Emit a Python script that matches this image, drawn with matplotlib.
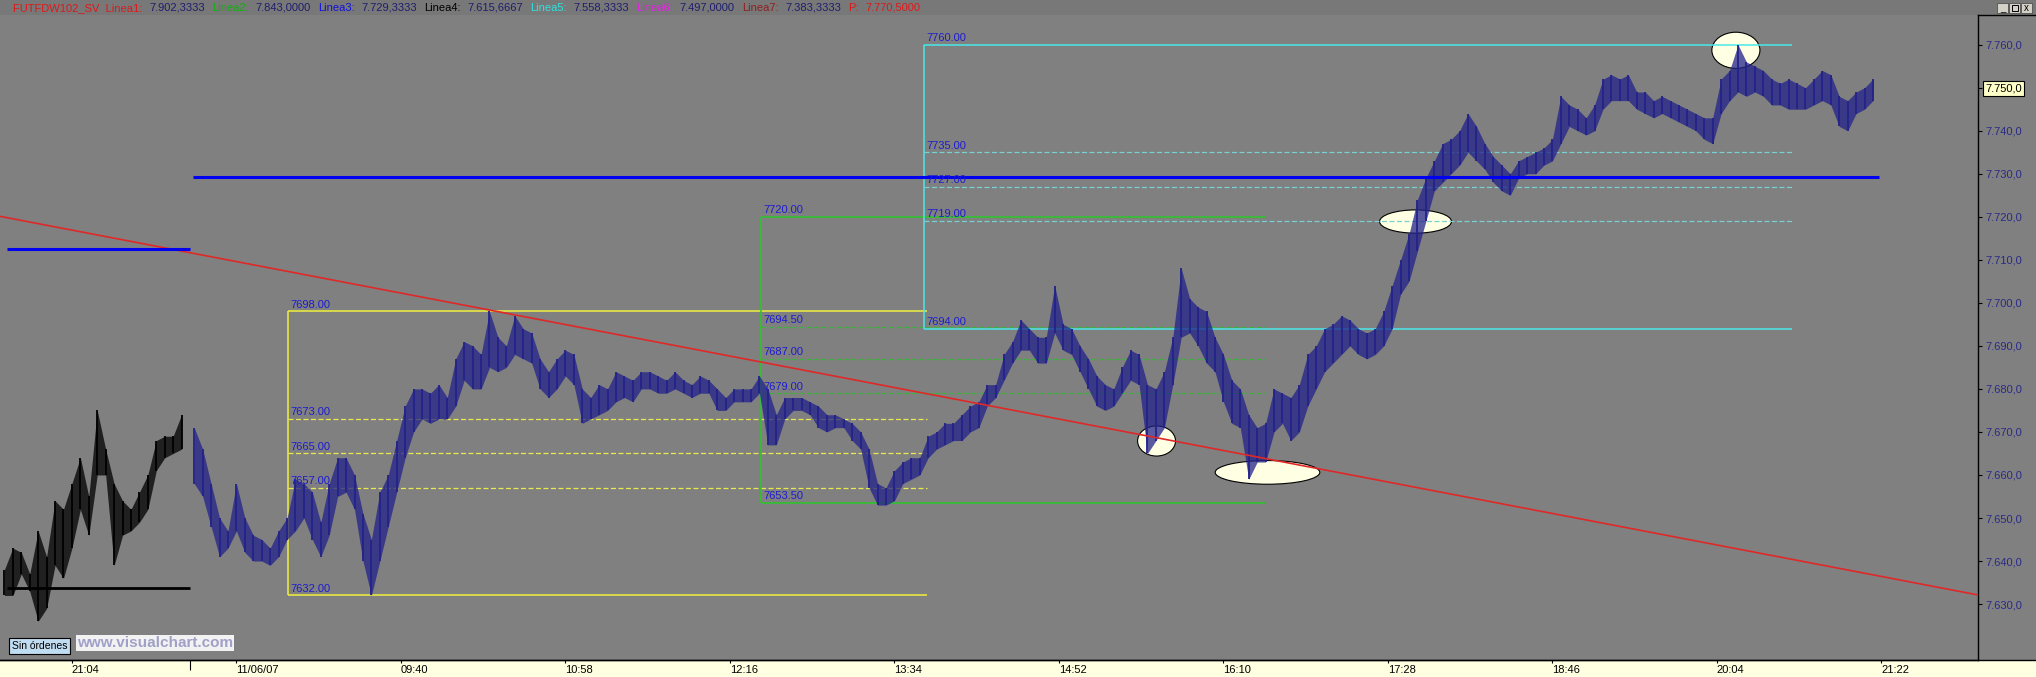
#!/usr/bin/env python3
# fdax intraday chart, visualchart style

import matplotlib.pyplot as plt
from matplotlib.patches import Ellipse, Rectangle
from matplotlib.lines import Line2D

plt.rcParams['font.family'] = ['Liberation Sans', 'DejaVu Sans']

W, H = 2036, 677

# minutes counted from 08:00 of 11/06/07, previous session is negative
prev_minutes = list(range(-88, 0, 4))
prev_high = [7638, 7643, 7642, 7637, 7647, 7641, 7654, 7652, 7658, 7664, 7655,
             7675, 7666, 7658, 7654, 7652, 7656, 7660, 7668, 7669, 7669, 7674]
prev_low = [7632, 7632, 7637, 7633, 7626, 7629, 7639, 7636, 7643, 7652, 7646,
            7660, 7660, 7639, 7646, 7647, 7649, 7652, 7661, 7664, 7665, 7666]

day_minutes = list(range(2, 802, 4))
day_high = [
    7671, 7666, 7658, 7650, 7647, 7658, 7650, 7646, 7645, 7643,
    7647, 7650, 7659, 7658, 7656, 7649, 7658, 7664, 7664, 7660,
    7651, 7645, 7656, 7660, 7668, 7676, 7680, 7680, 7679, 7681,
    7678, 7687, 7691, 7690, 7688, 7698, 7692, 7690, 7697, 7694,
    7693, 7687, 7684, 7687, 7689, 7688, 7680, 7678, 7681, 7680,
    7684, 7683, 7682, 7684, 7684, 7683, 7682, 7684, 7682, 7681,
    7683, 7682, 7680, 7678, 7680, 7680, 7680, 7683, 7680, 7674,
    7678, 7678, 7678, 7677, 7676, 7674, 7674, 7673, 7672, 7670,
    7666, 7658, 7657, 7661, 7663, 7664, 7664, 7669, 7670, 7672,
    7672, 7674, 7676, 7677, 7681, 7681, 7688, 7691, 7696, 7694,
    7692, 7692, 7704, 7695, 7694, 7690, 7687, 7683, 7681, 7680,
    7685, 7689, 7688, 7681, 7680, 7684, 7692, 7708, 7701, 7699,
    7698, 7692, 7688, 7682, 7680, 7674, 7671, 7672, 7680, 7679,
    7678, 7681, 7688, 7690, 7694, 7695, 7697, 7696, 7694, 7693,
    7694, 7698, 7704, 7710, 7716, 7724, 7729, 7733, 7737, 7738,
    7740, 7744, 7741, 7737, 7734, 7732, 7730, 7733, 7734, 7735,
    7736, 7738, 7748, 7746, 7745, 7743, 7746, 7752, 7753, 7752,
    7753, 7749, 7749, 7747, 7748, 7747, 7746, 7745, 7744, 7743,
    7743, 7752, 7754, 7760, 7756, 7755, 7754, 7752, 7751, 7752,
    7751, 7750, 7752, 7754, 7753, 7748, 7747, 7749, 7750, 7752]
day_low = [
    7658, 7655, 7648, 7641, 7643, 7647, 7642, 7640, 7640, 7639,
    7641, 7645, 7647, 7650, 7645, 7641, 7646, 7655, 7656, 7652,
    7640, 7632, 7640, 7648, 7656, 7664, 7670, 7673, 7672, 7673,
    7673, 7676, 7682, 7680, 7680, 7685, 7684, 7685, 7688, 7687,
    7686, 7680, 7678, 7680, 7683, 7681, 7672, 7673, 7674, 7675,
    7677, 7678, 7677, 7680, 7680, 7679, 7679, 7680, 7679, 7678,
    7679, 7679, 7675, 7675, 7677, 7677, 7677, 7679, 7667, 7667,
    7673, 7675, 7675, 7674, 7671, 7670, 7671, 7671, 7668, 7666,
    7657, 7653, 7653, 7654, 7658, 7659, 7660, 7664, 7666, 7667,
    7668, 7668, 7670, 7671, 7676, 7678, 7682, 7686, 7689, 7689,
    7686, 7686, 7693, 7689, 7688, 7684, 7680, 7676, 7675, 7676,
    7679, 7682, 7681, 7665, 7668, 7671, 7681, 7692, 7693, 7690,
    7686, 7684, 7677, 7672, 7671, 7659, 7663, 7663, 7670, 7672,
    7668, 7670, 7676, 7680, 7684, 7686, 7688, 7690, 7688, 7687,
    7688, 7690, 7694, 7702, 7705, 7712, 7719, 7726, 7728, 7730,
    7732, 7735, 7733, 7731, 7728, 7726, 7725, 7729, 7730, 7730,
    7732, 7733, 7737, 7741, 7740, 7739, 7740, 7745, 7747, 7747,
    7747, 7745, 7744, 7743, 7744, 7743, 7742, 7741, 7740, 7738,
    7737, 7744, 7747, 7749, 7748, 7749, 7748, 7746, 7746, 7745,
    7745, 7745, 7746, 7747, 7746, 7741, 7740, 7744, 7745, 7747]

tick_minutes = [-56, 22, 100, 178, 256, 334, 412, 490, 568, 646, 724, 802]
tick_labels = ['21:04', '11/06/07', '09:40', '10:58', '12:16', '13:34',
               '14:52', '16:10', '17:28', '18:46', '20:04', '21:22']
price_ticks = list(range(7630, 7761, 10))
last_price = 7750

trend_minutes = [-90, 848]
trend_prices = [7720.1, 7632.1]

prev_span = [-87, 0]
prev_blue_level = 7712.6
prev_black_level = 7633.8
linea3_span = [1.4, 801]
linea3_level = 7729.3333

yellow_levels = [7698.0, 7673.0, 7665.0, 7657.0, 7632.0]
yellow_span = [46.5, 349.5]
green_levels = [7720.0, 7694.5, 7687.0, 7679.0, 7653.5]
green_span = [270.7, 509.7]
cyan_levels = [7760.0, 7735.0, 7727.0, 7719.0, 7694.0]
cyan_span = [348.0, 759.6]

mark_minutes = [458.3, 510.9, 581.1, 733.0]
mark_prices = [7667.9, 7660.6, 7718.9, 7758.7]

navy = '#1e1e6e'
header = [('FUTFDW102_SV  Linea1:', '#e01818'), ('7.902,3333', navy),
          ('Linea2:', '#10b010'), ('7.843,0000', navy),
          ('Linea3:', '#1010e0'), ('7.729,3333', navy),
          ('Linea4:', 'black'), ('7.615,6667', navy),
          ('Linea5:', '#30e0e0'), ('7.558,3333', navy),
          ('Linea6:', '#e020e0'), ('7.497,0000', navy),
          ('Linea7:', '#902020'), ('7.383,3333', navy),
          ('P:', '#e01818'), ('7.770,5000', '#e01818')]


def fib_box(ax, levels, span, color, dash_color):
    t0, t1 = span
    ax.vlines(t0, levels[-1], levels[0], color=color, lw=1.1, zorder=2)
    for k, lv in enumerate(levels):
        if k in (0, len(levels) - 1):
            ax.hlines(lv, t0, t1, color=color, lw=1.1, zorder=2)
        else:
            ax.hlines(lv, t0, t1, color=dash_color, lw=0.9,
                      ls=(0, (4, 2)), zorder=2)
        ax.annotate(f'{lv:.2f}', (t0, lv), xytext=(2, 1.2),
                    textcoords='offset points', fontsize=8, color='#1c1cd0',
                    ha='left', va='bottom', zorder=6)


def bars(ax, t, low, high, color):
    # dense intraday bars: range band plus the single bars
    ax.fill_between(t, low, high, color=color, alpha=0.75, lw=0, zorder=2.8)
    ax.vlines(t, low, high, color=color, lw=1.3, zorder=3)


def px(x):
    return x / W


def py(y):
    return 1 - y / H


def main():
    fig = plt.figure(figsize=(W / 100, H / 100), dpi=100, facecolor='#808080')

    # title bar and time band
    fig.add_artist(Rectangle((0, py(15)), 1, 15 / H, transform=fig.transFigure,
                             fc='#787878', ec='none', zorder=-1))
    fig.add_artist(Rectangle((0, 0), 1, 17 / H, transform=fig.transFigure,
                             fc='#ffffe1', ec='none', zorder=-1))

    ax = fig.add_axes([0, 17 / H, 1978 / W, 645 / H])
    ax.set_facecolor('#808080')
    ax.set_xlim(-90.1, 847.8)
    ax.set_ylim(7617.0, 7766.9)

    for s in ('top', 'left'):
        ax.spines[s].set_visible(False)
    for s in ('right', 'bottom'):
        ax.spines[s].set_color('black')
        ax.spines[s].set_linewidth(1.0)

    fib_box(ax, yellow_levels, yellow_span, '#f0f040', '#e8e850')
    fib_box(ax, green_levels, green_span, '#28c828', '#40b040')
    fib_box(ax, cyan_levels, cyan_span, '#48e8e8', '#78d0d0')

    sizes = [(18, 7.0), (49.6, 5.5), (34.1, 5.4), (22.8, 8.4)]
    for t, p, (w, h) in zip(mark_minutes, mark_prices, sizes):
        ax.add_patch(Ellipse((t, p), w, h, fc='#ffffe4', ec='black',
                             lw=0.8, zorder=1.5))

    bars(ax, prev_minutes, prev_low, prev_high, 'black')
    bars(ax, day_minutes, day_low, day_high, '#22228a')

    ax.plot(trend_minutes, trend_prices, color='#e02828', lw=1.2, zorder=4)
    ax.hlines(prev_blue_level, *prev_span, color='#0000f0', lw=2.2, zorder=4)
    ax.hlines(linea3_level, *linea3_span, color='#0000f0', lw=2.2, zorder=4)
    ax.hlines(prev_black_level, *prev_span, color='black', lw=2.0, zorder=4)

    # price axis on the right
    ax.yaxis.tick_right()
    ax.set_yticks(price_ticks)
    ax.set_yticklabels([f'{v // 1000}.{v % 1000:03d},0' for v in price_ticks])
    ax.tick_params(axis='y', direction='out', length=3, width=0.8,
                   colors='black', labelcolor='#2a2a88', labelsize=8, pad=2)
    for v, lbl in zip(price_ticks, ax.get_yticklabels()):
        if v == last_price:
            lbl.set_color('black')
            lbl.set_bbox(dict(boxstyle='square,pad=0.2', fc='#ffffc8',
                              ec='black', lw=0.8))

    # time axis
    ax.set_xticks(tick_minutes)
    ax.set_xticklabels(tick_labels)
    ax.set_xticks([0], minor=True)
    ax.tick_params(axis='x', which='major', direction='out', length=2.5,
                   width=0.8, colors='black', labelsize=8, pad=1)
    ax.tick_params(axis='x', which='minor', direction='out', length=7,
                   width=0.8, colors='black')
    for lbl in ax.get_xticklabels():
        lbl.set_ha('left')

    fig.add_artist(Line2D([0, 1], [17 / H, 17 / H], transform=fig.transFigure,
                          color='black', lw=1.0))
    fig.add_artist(Line2D([1978 / W, 1], [py(15), py(15)],
                          transform=fig.transFigure, color='black', lw=1.0))

    # header line
    fig.canvas.draw()
    r = fig.canvas.get_renderer()
    x = 13
    for s, c in header:
        t = fig.text(px(x), py(8), s, color=c, fontsize=8, ha='left', va='center')
        x = t.get_window_extent(renderer=r).x1 + 7

    # window buttons
    for k, g in enumerate(['_', '', 'x']):
        x0 = 1997 + 12 * k
        fig.add_artist(Rectangle((px(x0), py(13)), 11 / W, 10 / H,
                                 transform=fig.transFigure, fc='#d4d0c8',
                                 ec='#505050', lw=0.6))
        if g:
            fig.text(px(x0 + 5.5), py(8), g, fontsize=7, ha='center',
                     va='center', color='black')
        else:
            fig.add_artist(Rectangle((px(x0 + 2.5), py(11)), 6 / W, 6 / H,
                                     transform=fig.transFigure, fc='none',
                                     ec='black', lw=0.7))

    fig.text(px(12), py(646), 'Sin órdenes', fontsize=7.5, color='black',
             ha='left', va='center',
             bbox=dict(boxstyle='square,pad=0.25', fc='#c0dcf0', ec='black', lw=0.8))
    fig.text(px(77), py(643), 'www.visualchart.com', fontsize=11,
             fontweight='bold', color='#a0a0c8', ha='left', va='center',
             bbox=dict(boxstyle='square,pad=0.05', fc='#f2f2f2', ec='none'))

    fig.savefig('out.png', dpi=100, facecolor=fig.get_facecolor())


if __name__ == '__main__':
    main()
